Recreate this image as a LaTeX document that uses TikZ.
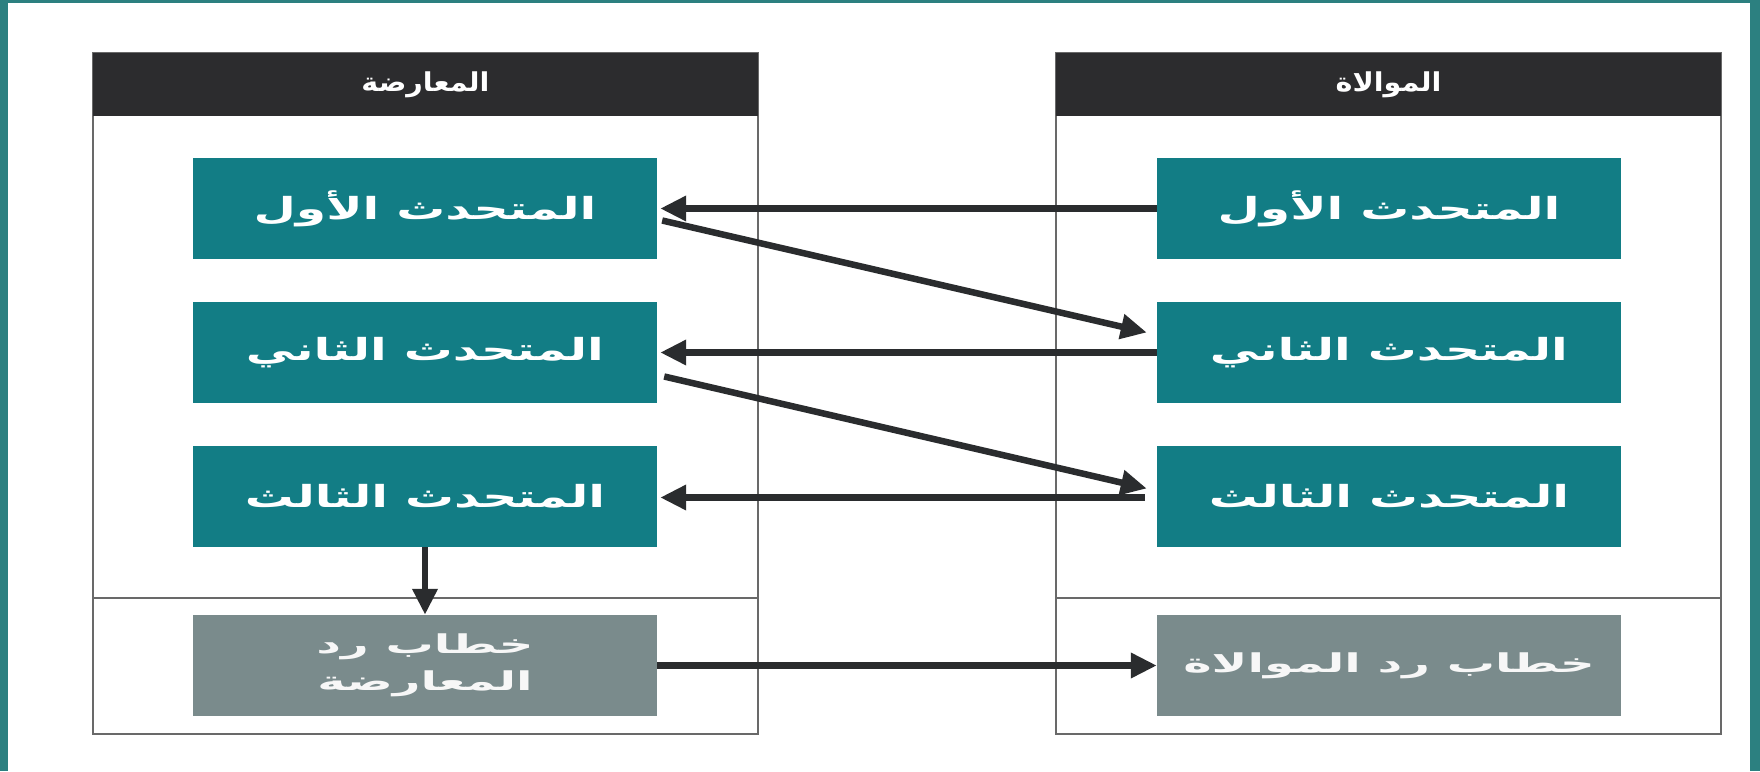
\documentclass[tikz,border=0pt]{standalone}
\usepackage{fontspec}
\newfontfamily\headfont[Script=Arabic,FakeStretch=1.1]{DejaVu Sans}
\newfontfamily\boxfont[Script=Arabic,FakeStretch=1.6]{DejaVu Sans}
\newfontfamily\replyfont[Script=Arabic,FakeStretch=1.85]{DejaVu Sans}
\TeXXeTstate=1
\usetikzlibrary{arrows.meta,positioning}
\definecolor{frameteal}{RGB}{44,128,128}
\definecolor{boxteal}{RGB}{18,125,133}
\definecolor{boxgrey}{RGB}{122,139,140}
\definecolor{headdark}{RGB}{44,44,46}
\definecolor{arrowdark}{RGB}{42,44,46}
\definecolor{panelline}{RGB}{105,105,105}
\tikzset{
  panel/.style={draw=panelline, line width=2pt, minimum width=665pt, minimum height=681pt, inner sep=0pt},
  header/.style={fill=headdark, minimum width=665pt, minimum height=63pt, inner sep=0pt, text=white, font=\headfont\bfseries\fontsize{26}{30}\selectfont},
  speaker/.style={fill=boxteal, minimum width=464pt, minimum height=101pt, inner sep=0pt, text=white, font=\boxfont\bfseries\fontsize{30.5}{34}\selectfont},
  rebuttal/.style={speaker, fill=boxgrey, text=white!94!gray, align=center, font=\replyfont\bfseries\fontsize{26}{37}\selectfont},
  link/.style={draw=arrowdark, line width=6.5pt, -{Triangle[length=26pt,width=24pt]}},
  divider/.style={draw=panelline, line width=2pt}
}

\begin{document}
\begin{tikzpicture}[x=1pt,y=-1pt]
          \useasboundingbox (0,0) rectangle (1760,771);
          \fill[white] (0,0) rectangle (1760,771);
          \fill[frameteal] (0,0) rectangle (8,771);
          \fill[frameteal] (0,0) rectangle (1760,3);
          \fill[frameteal] (1750,0) rectangle (1760,771);
          \node [panel] (lpanel) at (425.5,393.5) {};
          \node [panel] (rpanel) at (1388.5,393.5) {};
          \node [header] (lhead) at (425.5,84.5) {\beginR المعارضة\endR};
          \node [header] (rhead) at (1388.5,84.5) {\beginR الموالاة\endR};
          \draw[divider] (93,598) -- (758,598);
          \draw[divider] (1056,598) -- (1721,598);
          \node [speaker] (l1) at (425,208.5) {\beginR المتحدث الأول\endR};
          \node [speaker] (l2) at (425,352.5) {\beginR المتحدث الثاني\endR};
          \node [speaker] (l3) at (425,496.5) {\beginR المتحدث الثالث\endR};
          \node [rebuttal] (lreply) at (425,665.5) {\beginR خطاب رد\endR\\\beginR المعارضة\endR};
          \node [speaker] (r1) at (1389,208.5) {\beginR المتحدث الأول\endR};
          \node [speaker] (r2) at (1389,352.5) {\beginR المتحدث الثاني\endR};
          \node [speaker] (r3) at (1389,496.5) {\beginR المتحدث الثالث\endR};
          \node [rebuttal] (rreply) at (1389,665.5) {\beginR خطاب رد الموالاة\endR};
          \draw[link] (r1.west) -- ([xshift=3pt]l1.east);
          \draw[link] ([xshift=5pt,yshift=-12pt]l1.east) -- ([xshift=-10pt,yshift=20pt]r2.west);
          \draw[link] (r2.west) -- ([xshift=3pt]l2.east);
          \draw[link] ([xshift=7pt,yshift=-24pt]l2.east) -- ([xshift=-10pt,yshift=8pt]r3.west);
          \draw[link] ([xshift=-12pt,yshift=-1pt]r3.west) -- ([xshift=3pt,yshift=-1pt]l3.east);
          \draw[link] (l3.south) -- (lreply.north);
          \draw[link] (lreply.east) -- (rreply.west);
        \end{tikzpicture}
\end{document}
